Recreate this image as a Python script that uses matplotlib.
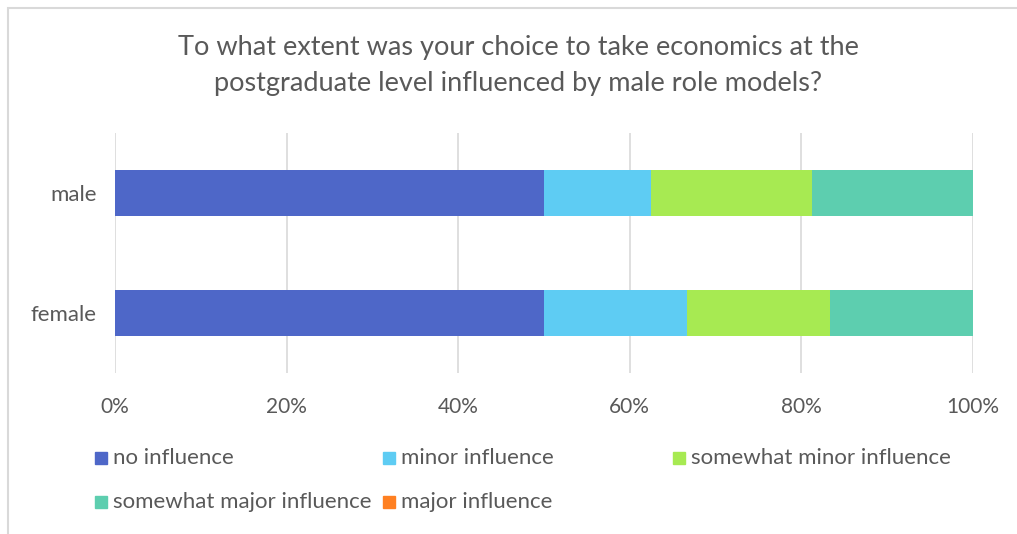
import matplotlib
matplotlib.use('Agg')
import matplotlib.pyplot as plt
from matplotlib.patches import Rectangle
import numpy as np

groups = ['male', 'female']
series = ['no influence', 'minor influence', 'somewhat minor influence',
          'somewhat major influence', 'major influence']
# share of respondents (%) per group, one list per response
no_influence = [50.0, 50.0]
minor_influence = [12.5, 16.67]
somewhat_minor = [18.75, 16.67]
somewhat_major = [18.75, 16.66]
major_influence = [0.0, 0.0]
ticks = [0, 20, 40, 60, 80, 100]

colors = ['#4E67C8', '#5ECCF3', '#A7EA52', '#5DCEAF', '#FF8021']
txt = '#595959'
plt.rcParams['font.family'] = ['Lato', 'DejaVu Sans']

W, H = 1017, 534
fig = plt.figure(figsize=(W / 100, H / 100), dpi=100)

# chart frame (left and top edges visible)
fig.patches.append(Rectangle((8 / W, -0.1), 1.2, 1 - 8 / H + 0.1, transform=fig.transFigure,
                             fill=False, edgecolor='#D9D9D9', lw=1.5))

ax = fig.add_axes([115 / W, 1 - 373 / H, (973 - 115) / W, (373 - 133) / H])
vals = [no_influence, minor_influence, somewhat_minor, somewhat_major, major_influence]
y = np.arange(len(groups))
left = np.zeros(len(groups))
for v, c, name in zip(vals, colors, series):
    ax.barh(y, v, left=left, height=0.39, color=c, label=name, zorder=3)
    left += np.array(v)

ax.set_xlim(0, 100)
ax.set_ylim(1.5, -0.5)
ax.set_xticks(ticks)
ax.set_xticklabels([f'{t}%' for t in ticks])
ax.set_yticks(y)
ax.set_yticklabels(groups)
ax.grid(axis='x', color='#D9D9D9', lw=1.2, zorder=0)
for s in ax.spines.values():
    s.set_visible(False)
ax.tick_params(length=0, colors=txt, labelsize=15)
ax.tick_params(axis='x', pad=17)
ax.tick_params(axis='y', labelsize=16, pad=13)

fig.text(518 / W, 1 - 66 / H,
         'To what extent was your choice to take economics at the\npostgraduate level influenced by male role models?',
         ha='center', va='center', fontsize=19.5, color=txt, linespacing=1.55)

# legend laid out in rows of three
pos = [(95, 458), (383, 458), (673, 458), (95, 502), (383, 502)]
for (px, py), c, name in zip(pos, colors, series):
    fig.patches.append(Rectangle((px / W, 1 - (py + 6) / H), 12 / W, 12 / H,
                                 transform=fig.transFigure, color=c))
    fig.text((px + 18) / W, 1 - py / H, name, ha='left', va='center',
             fontsize=16, color=txt)

fig.savefig('out.png', dpi=100, facecolor='white')
